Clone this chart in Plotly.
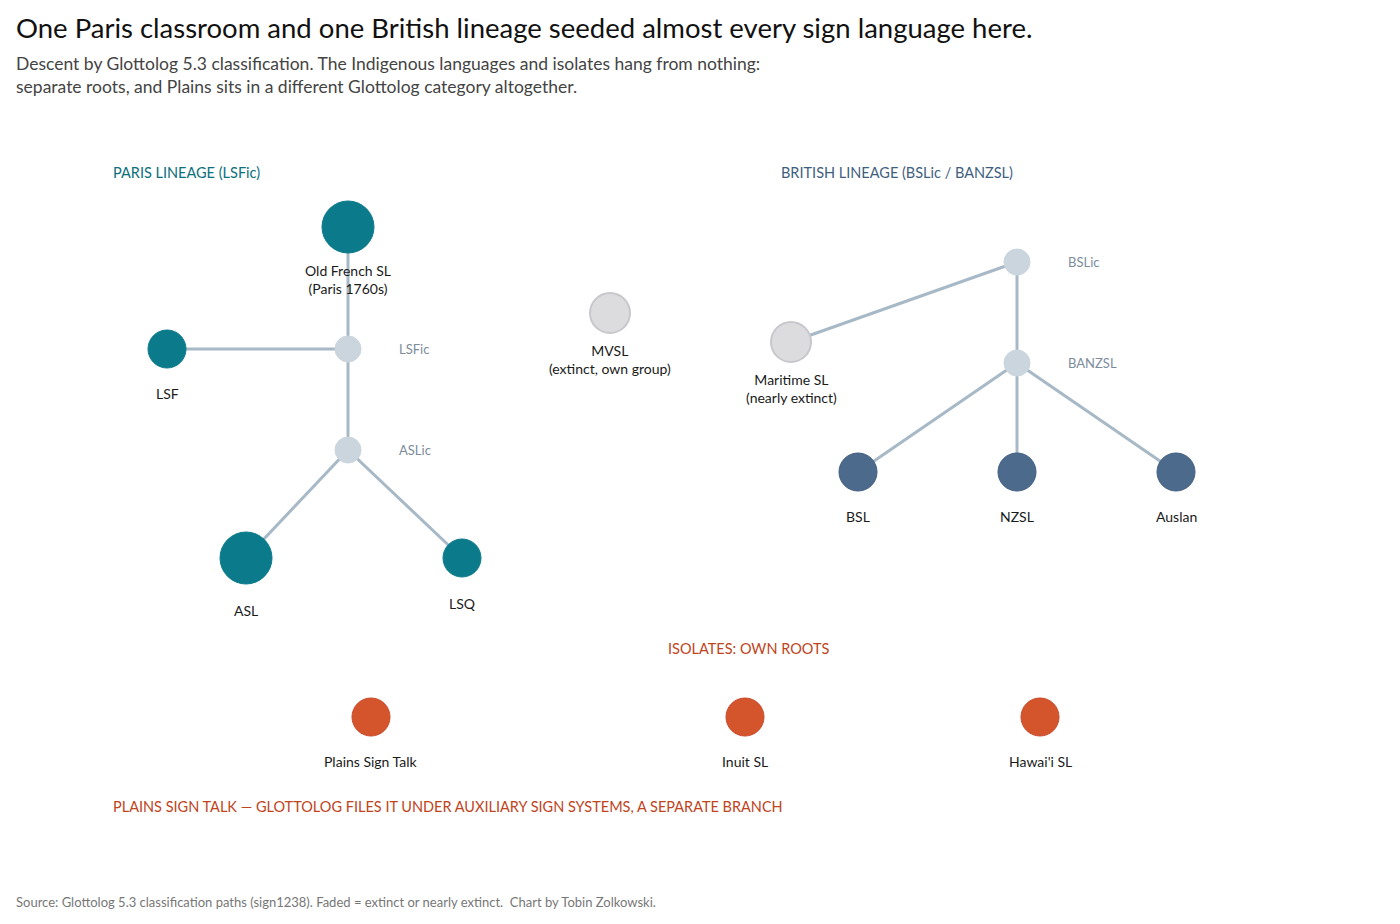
import plotly.graph_objects as go

# node data
names = ["Old French SL<br>(Paris 1760s)", "LSFic", "LSF", "ASLic", "ASL", "LSQ",
         "MVSL<br>(extinct, own group)", "BSLic", "Maritime SL<br>(nearly extinct)", "BANZSL",
         "BSL", "NZSL", "Auslan", "Plains Sign Talk", "Inuit SL", "Hawai'i SL"]
kinds = ["paris", "group", "paris", "group", "paris", "paris",
         "faded", "group", "faded", "group",
         "brit", "brit", "brit", "iso", "iso", "iso"]
node_x = [348, 348, 167, 348, 246, 462, 610, 1017, 791, 1017, 858, 1017, 1176, 371, 745, 1040]
node_y = [227, 349, 349, 450, 558, 558, 313, 262, 342, 363, 472, 472, 472, 717, 717, 717]
node_d = [52, 26, 38, 26, 52, 38, 40, 26, 40, 26, 38, 38, 38, 38, 38, 38]
label_dy = [33, 0, 44, 0, 52, 45, 27, 0, 27, 0, 44, 44, 44, 44, 44, 44]
edges = [(0, 1), (1, 2), (1, 3), (3, 4), (3, 5), (7, 8), (7, 9), (9, 10), (9, 11), (9, 12)]

colors = {"paris": "#0b7b8b", "group": "#cbd5de", "faded": "#dcdcde",
          "brit": "#4b6a8c", "iso": "#d4552b"}
lines = {"paris": "#0b7b8b", "group": "#cbd5de", "faded": "#c8c8cc",
         "brit": "#3f5d7d", "iso": "#c9482a"}
FONT = "Lato"
OFF = 8  # page body margin compensation

fig = go.Figure()
for a, b in edges:
    fig.add_trace(go.Scatter(x=[node_x[a], node_x[b]], y=[node_y[a], node_y[b]], mode="lines",
                             line=dict(color="#a7b8c7", width=3), hoverinfo="skip", showlegend=False))
fig.add_trace(go.Scatter(x=node_x, y=node_y, mode="markers",
                         marker=dict(size=node_d, color=[colors[k] for k in kinds], opacity=1,
                                     line=dict(color=[lines[k] for k in kinds], width=[1 if k != "faded" else 2 for k in kinds])),
                         hoverinfo="skip", showlegend=False))

for i, n in enumerate(names):
    if kinds[i] == "group":
        fig.add_annotation(x=node_x[i] + 49, y=node_y[i], text=n, showarrow=False, xanchor="left",
                           font=dict(family=FONT, size=13, color="#7d8c9b"))
    elif "<br>" in n:
        fig.add_annotation(x=node_x[i], y=node_y[i] + label_dy[i], text=n, showarrow=False, yanchor="top",
                           font=dict(family=FONT, size=14, color="#1a1a1a"))
    else:
        fig.add_annotation(x=node_x[i], y=node_y[i] + label_dy[i], text=n, showarrow=False,
                           font=dict(family=FONT, size=14, color="#1a1a1a"))

sections = [("PARIS LINEAGE (LSFic)", 111, 172, "#0b6f7c"),
            ("BRITISH LINEAGE (BSLic / BANZSL)", 779, 172, "#3f5f80"),
            ("ISOLATES: OWN ROOTS", 666, 648, "#c0441c"),
            ("PLAINS SIGN TALK — GLOTTOLOG FILES IT UNDER AUXILIARY SIGN SYSTEMS, A SEPARATE BRANCH", 111, 806, "#c0441c")]
for t, x, y, c in sections:
    fig.add_annotation(x=x, y=y, text=t, showarrow=False, xanchor="left",
                       font=dict(family=FONT, size=14.5, color=c))

fig.add_annotation(x=14, y=27, text="One Paris classroom and one British lineage seeded almost every sign language here.",
                   showarrow=False, xanchor="left", font=dict(family=FONT, size=27.5, color="#111"))
fig.add_annotation(x=14, y=75, text="Descent by Glottolog 5.3 classification. The Indigenous languages and isolates hang from nothing:<br>separate roots, and Plains sits in a different Glottolog category altogether.",
                   showarrow=False, xanchor="left", align="left", font=dict(family=FONT, size=17.5, color="#444"))
fig.add_annotation(x=14, y=902, text="Source: Glottolog 5.3 classification paths (sign1238). Faded = extinct or nearly extinct.  Chart by Tobin Zolkowski.",
                   showarrow=False, xanchor="left", font=dict(family=FONT, size=13, color="#777"))

fig.update_layout(width=1400, height=924, margin=dict(l=0, r=0, t=0, b=0),
                  plot_bgcolor="white", paper_bgcolor="white",
                  xaxis=dict(range=[OFF, 1400 + OFF], visible=False, fixedrange=True),
                  yaxis=dict(range=[924 + OFF, OFF], visible=False, fixedrange=True))
fig.write_html("out.html")
